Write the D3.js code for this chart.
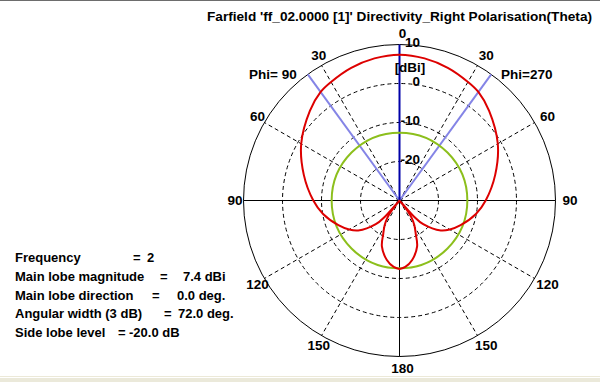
<!DOCTYPE html>
<html><head><meta charset="utf-8">
<script src="https://cdn.jsdelivr.net/npm/d3@7"></script>
<style>
html,body{margin:0;padding:0;background:#fff;}
svg{display:block;font-family:"Liberation Sans",Arial,sans-serif;font-weight:bold;}
</style></head>
<body>
<script>
// ---- data ----
const titleText = "Farfield 'ff_02.0000 [1]' Directivity_Right Polarisation(Theta)";
const thetaDeg = [0,10,20,30,36,45,60,75,90,100,112,120,126,135,138,140,142,145,149,154,159,168,175,180];
const directivity = [7.4,7.0,6.2,5.1,4.4,2.5,-0.9,-4.6,-7.9,-10.1,-13.1,-15.1,-16.9,-21.4,-24.5,-30.0,-27.0,-24.5,-22.6,-20.5,-17.4,-14.4,-12.9,-12.4];
const radialTicks = [10,0,-10,-20];
const angleTicks = [0,30,60,90,120,150,180];
const phiLabels = ["Phi= 90","Phi=270"];
const unitLabel = "[dBi]";
const mainLobeMag = 7.4;
const mainLobeDir = 0.0;
const angularWidth = 72.0;
const sideLobeLevel = -20.0;
const frequency = 2;
const infoLabels = ["Frequency","Main lobe magnitude","Main lobe direction","Angular width (3 dB)","Side lobe level"];
const infoValues = [String(frequency), mainLobeMag.toFixed(1)+" dBi", mainLobeDir.toFixed(1)+" deg.", angularWidth.toFixed(1)+" deg.", sideLobeLevel.toFixed(1)+" dB"];

// ---- layout ----
const W=600,H=382, cx=399.5, cy=200.5, R=156;
const svg=d3.select("body").append("svg").attr("width",W).attr("height",H);
svg.append("rect").attr("width",W).attr("height",H).attr("fill","#fff");
svg.append("rect").attr("x",0).attr("y",0).attr("width",W).attr("height",1).attr("fill","#6d6d6d");
svg.append("rect").attr("x",0).attr("y",376).attr("width",W).attr("height",1).attr("fill","#ece9d8");
svg.append("rect").attr("x",0).attr("y",378).attr("width",W).attr("height",4).attr("fill","#ebe9da");

const r=d3.scaleLinear().domain([-30,10]).range([0,R]).clamp(true);
const rad=d=>d*Math.PI/180;
const g=svg.append("g").attr("transform",`translate(${cx},${cy})`);

// dashed circles
g.selectAll("circle.grid").data(radialTicks.filter(v=>v<10)).join("circle")
 .attr("r",d=>r(d)).attr("fill","none").attr("stroke","#000").attr("stroke-width",1).attr("stroke-dasharray","4,3");
// dashed spokes
const spokeAngles=[30,60,120,150,-30,-60,-120,-150];
g.selectAll("line.spoke").data(spokeAngles).join("line")
 .attr("x1",0).attr("y1",0)
 .attr("x2",d=>R*Math.sin(rad(d))).attr("y2",d=>-R*Math.cos(rad(d)))
 .attr("stroke","#000").attr("stroke-width",1).attr("stroke-dasharray","4,3");
// outer circle
g.append("circle").attr("r",R).attr("fill","none").attr("stroke","#000").attr("stroke-width",1);
// solid axes
g.append("line").attr("x1",-R).attr("x2",R).attr("y1",0).attr("y2",0).attr("stroke","#000");
g.append("line").attr("x1",0).attr("x2",0).attr("y1",0).attr("y2",R).attr("stroke","#000");

// light blue 3dB lines
const halfW=angularWidth/2;
[mainLobeDir-halfW, mainLobeDir+halfW].forEach(a=>{
  g.append("line").attr("x1",0).attr("y1",0)
   .attr("x2",R*Math.sin(rad(a))).attr("y2",-R*Math.cos(rad(a)))
   .attr("stroke","#8484e6").attr("stroke-width",2);
});
// main lobe direction
g.append("line").attr("x1",0).attr("y1",0)
 .attr("x2",R*Math.sin(rad(mainLobeDir))).attr("y2",-R*Math.cos(rad(mainLobeDir)))
 .attr("stroke","#0000a8").attr("stroke-width",2);

// side lobe level circle
g.append("circle").attr("r",r(mainLobeMag+sideLobeLevel)).attr("fill","none")
 .attr("stroke","#8cbf1c").attr("stroke-width",2);

// pattern curve: left (phi=90) + right (phi=270)
const pts=[];
for(let i=thetaDeg.length-1;i>0;i--) pts.push({a:-thetaDeg[i],v:directivity[i]});
for(let i=0;i<thetaDeg.length;i++) pts.push({a:thetaDeg[i],v:directivity[i]});
const line=d3.lineRadial().angle(d=>rad(d.a)).radius(d=>r(d.v)).curve(d3.curveCatmullRom.alpha(0.5));
g.append("path").attr("d",line(pts)).attr("fill","none").attr("stroke","#dd0000").attr("stroke-width",2);

// angle labels
const LR=167.5, off=3;
const angLab=[];
angleTicks.forEach(t=>{ angLab.push(t); if(t>0&&t<180) angLab.push(-t); });
g.selectAll("text.ang").data(angLab).join("text")
 .attr("x",d=>off+LR*Math.sin(rad(d))).attr("y",d=>-LR*Math.cos(rad(d)))
 .attr("text-anchor","middle").attr("dominant-baseline","central")
 .attr("font-size","13.5px").attr("fill","#000").text(d=>Math.abs(d));

// radial labels
g.selectAll("text.rad").data(radialTicks).join("text")
 .attr("x",20.5).attr("y",d=>-r(d)+2).attr("text-anchor","end")
 .attr("font-size","13.5px").attr("fill","#000").text(d=>d);
g.append("text").attr("x",10.5).attr("y",-128.5).attr("text-anchor","middle")
 .attr("font-size","13.5px").text(unitLabel);

// phi labels
svg.append("text").attr("x",249).attr("y",79).attr("font-size","13.5px").text(phiLabels[0]);
svg.append("text").attr("x",501).attr("y",79).attr("font-size","13.5px").text(phiLabels[1]);

// title
svg.append("text").attr("x",207).attr("y",21).attr("font-size","13.5px")
 .attr("textLength",385).attr("lengthAdjust","spacingAndGlyphs").text(titleText);

// info block
const eqX=[133,160,152,164,118], valX=[147,183,177,178,129];
const info=svg.append("g").attr("font-size","13px");
infoLabels.forEach((l,i)=>{
  const y=262+i*18.8;
  info.append("text").attr("x",15).attr("y",y).text(l);
  info.append("text").attr("x",eqX[i]).attr("y",y).text("=");
  info.append("text").attr("x",valX[i]).attr("y",y).text(infoValues[i]);
});
</script>
</body></html>
